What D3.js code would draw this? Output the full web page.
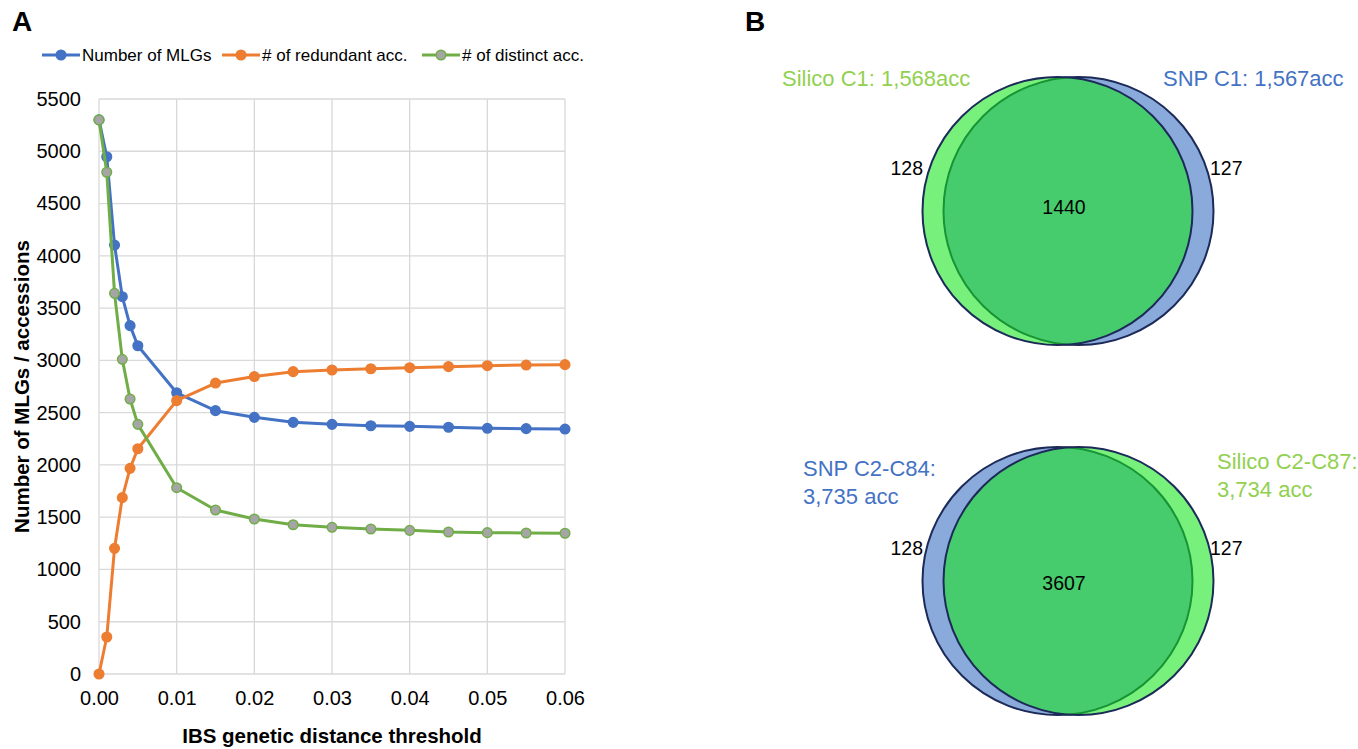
<!DOCTYPE html>
<html>
<head>
<meta charset="utf-8">
<script src="https://cdn.jsdelivr.net/npm/d3@7"></script>
<style>
  body { margin: 0; background: #fff; }
  text { font-family: Arial, "Liberation Sans", sans-serif; }
</style>
</head>
<body>
<svg id="chart" width="1358" height="749"></svg>
<script>
// ---- panel A data ----
const thresholds = [0, 0.001, 0.002, 0.003, 0.004, 0.005, 0.01, 0.015, 0.02, 0.025, 0.03, 0.035, 0.04, 0.045, 0.05, 0.055, 0.06];
const mlgs      = [5300, 4948, 4103, 3609, 3332, 3140, 2690, 2519, 2455, 2407, 2388, 2375, 2369, 2360, 2350, 2347, 2343];
const redundant = [0, 354, 1202, 1687, 1967, 2155, 2615, 2783, 2845, 2892, 2908, 2920, 2930, 2940, 2949, 2955, 2959];
const distinct  = [5300, 4799, 3641, 3010, 2630, 2388, 1782, 1569, 1483, 1428, 1403, 1387, 1374, 1358, 1352, 1349, 1346];
const seriesNames = ["Number of MLGs", "# of redundant acc.", "# of distinct acc."];
const xTicks = [0, 0.01, 0.02, 0.03, 0.04, 0.05, 0.06];
const yTicks = [0, 500, 1000, 1500, 2000, 2500, 3000, 3500, 4000, 4500, 5000, 5500];

// ---- panel B data ----
const vennLeftSource  = ["Silico", "SNP"];
const vennRightSource = ["SNP", "Silico"];
const vennLeftTitle   = [["Silico C1: 1,568acc"], ["SNP C2-C84:", "3,735 acc"]];
const vennRightTitle  = [["SNP C1: 1,567acc"], ["Silico C2-C87:", "3,734 acc"]];
const vennLeftOnly    = [128, 128];
const vennRightOnly   = [127, 127];
const vennShared      = [1440, 3607];

const svg = d3.select("#chart");
const FONT = "Arial, 'Liberation Sans', sans-serif";

// ===================== Panel A =====================
const x = d3.scaleLinear().domain([0, 0.06]).range([99, 565]);
const y = d3.scaleLinear().domain([0, 5500]).range([674, 99]);

const colors = d3.scaleOrdinal().domain(seriesNames).range(["#4472c4", "#ed7d31", "#70ad47"]);
const markerFill = d3.scaleOrdinal().domain(seriesNames).range(["#4472c4", "#ed7d31", "#a5a5a5"]);

// grid
const grid = svg.append("g").attr("stroke", "#d9d9d9").attr("stroke-width", 1.3);
grid.selectAll("line.v").data(xTicks).join("line")
  .attr("x1", d => x(d)).attr("x2", d => x(d))
  .attr("y1", y(5500)).attr("y2", y(0));
grid.selectAll("line.h").data(yTicks).join("line")
  .attr("x1", x(0)).attr("x2", x(0.06))
  .attr("y1", d => y(d)).attr("y2", d => y(d));

// axes
svg.append("g")
  .attr("transform", `translate(${x(0)},0)`)
  .call(d3.axisLeft(y).tickValues(yTicks).tickSize(0).tickPadding(18).tickFormat(d3.format("d")))
  .call(g => g.select(".domain").remove())
  .call(g => g.selectAll("text").attr("font-size", 20).attr("fill", "#000").attr("font-family", FONT));

svg.append("g")
  .attr("transform", `translate(0,${y(0)})`)
  .call(d3.axisBottom(x).tickValues(xTicks).tickSize(0).tickPadding(17).tickFormat(d3.format(".2f")))
  .call(g => g.select(".domain").remove())
  .call(g => g.selectAll("text").attr("font-size", 20).attr("fill", "#000").attr("font-family", FONT));

// axis titles
svg.append("text")
  .attr("x", (x(0) + x(0.06)) / 2).attr("y", 743)
  .attr("text-anchor", "middle").attr("font-size", 20.5).attr("font-weight", "bold")
  .text("IBS genetic distance threshold");

svg.append("text")
  .attr("transform", `translate(29,${(y(0) + y(5500)) / 2}) rotate(-90)`)
  .attr("text-anchor", "middle").attr("font-size", 20.5).attr("font-weight", "bold")
  .text("Number of MLGs / accessions");

// series
const series = [mlgs, redundant, distinct].map((vals, i) => ({
  name: seriesNames[i],
  points: vals.map((v, j) => ({ t: thresholds[j], v }))
}));

const line = d3.line().x(d => x(d.t)).y(d => y(d.v));

const sg = svg.append("g").selectAll("g").data(series).join("g");
sg.append("path")
  .attr("d", d => line(d.points))
  .attr("fill", "none")
  .attr("stroke", d => colors(d.name))
  .attr("stroke-width", 3)
  .attr("stroke-linejoin", "round");
sg.selectAll("circle")
  .data(d => d.points.map(p => ({ ...p, name: d.name })))
  .join("circle")
  .attr("cx", d => x(d.t)).attr("cy", d => y(d.v))
  .attr("r", 4.8)
  .attr("fill", d => markerFill(d.name))
  .attr("stroke", d => colors(d.name))
  .attr("stroke-width", 1.5);

// legend
const legendX = [42, 222, 422];
const leg = svg.append("g").selectAll("g").data(seriesNames).join("g")
  .attr("transform", (d, i) => `translate(${legendX[i]},55)`);
leg.append("line").attr("x1", 0).attr("x2", 38)
  .attr("stroke", d => colors(d)).attr("stroke-width", 3);
leg.append("circle").attr("cx", 19).attr("r", 4.8)
  .attr("fill", d => markerFill(d)).attr("stroke", d => colors(d)).attr("stroke-width", 1.5);
leg.append("text").attr("x", 40).attr("dy", "0.35em")
  .attr("font-size", 17).text(d => d);

// panel labels
svg.append("text").attr("x", 12).attr("y", 31).attr("font-size", 28).attr("font-weight", "bold").text("A");
svg.append("text").attr("x", 745).attr("y", 31).attr("font-size", 28).attr("font-weight", "bold").text("B");

// ===================== Panel B =====================
const navy = "#1c2a58";
const textColor = d3.scaleOrdinal().domain(["Silico", "SNP"]).range(["#92d050", "#4472c4"]);

const vennLayout = [
  { cy: 211, leftTitle: [782, 86], rightTitle: [1163, 86], onlyY: 175, sharedY: 214 },
  { cy: 581, leftTitle: [803, 476], rightTitle: [1217, 469], onlyY: 555, sharedY: 590 }
];
const leftCx = 1057.5, rightCx = 1078.5, rx = 135, ry = 134;

vennShared.forEach((shared, i) => {
  const L = vennLayout[i];
  const g = svg.append("g");
  const sets = [
    { src: vennLeftSource[i], cx: leftCx },
    { src: vennRightSource[i], cx: rightCx }
  ];
  // SNP (blue, opaque) first, Silico (translucent green) on top
  sets.sort((a, b) => (a.src === "SNP" ? -1 : 1) - (b.src === "SNP" ? -1 : 1));
  g.selectAll("ellipse").data(sets).join("ellipse")
    .attr("cx", d => d.cx).attr("cy", L.cy).attr("rx", rx).attr("ry", ry)
    .attr("fill", d => d.src === "SNP" ? "#8aaadb" : "rgb(19,229,26)")
    .attr("fill-opacity", d => d.src === "SNP" ? 1 : 0.573)
    .attr("stroke", navy).attr("stroke-width", 2);

  const title = (lines, pos, src) => {
    const t = g.append("text").attr("font-size", 22).attr("fill", textColor(src));
    lines.forEach((s, k) => t.append("tspan").attr("x", pos[0]).attr("y", pos[1] + k * 28).text(s));
  };
  title(vennLeftTitle[i], L.leftTitle, vennLeftSource[i]);
  title(vennRightTitle[i], L.rightTitle, vennRightSource[i]);

  g.append("text").attr("x", 923).attr("y", L.onlyY).attr("text-anchor", "end")
    .attr("font-size", 19.5).text(vennLeftOnly[i]);
  g.append("text").attr("x", 1210).attr("y", L.onlyY)
    .attr("font-size", 19.5).text(vennRightOnly[i]);
  g.append("text").attr("x", 1064).attr("y", L.sharedY).attr("text-anchor", "middle")
    .attr("font-size", 19.5).text(shared);
});
</script>
</body>
</html>
